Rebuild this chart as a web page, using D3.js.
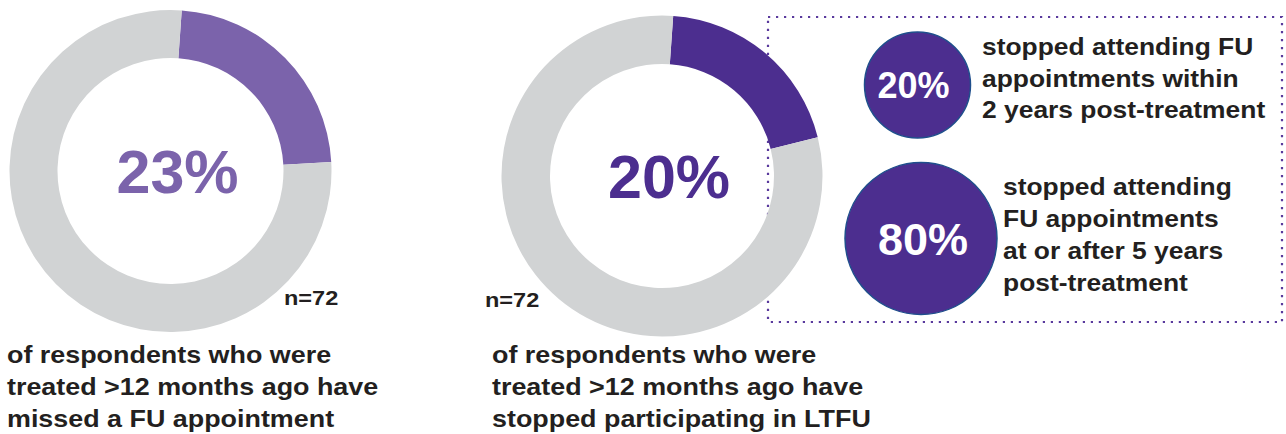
<!DOCTYPE html>
<html>
<head>
<meta charset="utf-8">
<script src="https://cdn.jsdelivr.net/npm/d3@7"></script>
<style>
  html, body { margin: 0; padding: 0; background: #ffffff; }
  svg { display: block; }
  text { font-family: "Liberation Sans", Arial, Helvetica, sans-serif; }
</style>
</head>
<body>
<svg id="chart" width="1286" height="434"></svg>
<script>
// ---- data ----
const donutValues = [23, 20];
const donutLabels = ["23%", "20%"];
const donutSampleSizes = ["n=72", "n=72"];
const donutCaptions = [
  ["of respondents who were", "treated >12 months ago have", "missed a FU appointment"],
  ["of respondents who were", "treated >12 months ago have", "stopped participating in LTFU"]
];
const bubbleValues = [20, 80];
const bubbleLabels = ["20%", "80%"];
const bubbleCaptions = [
  ["stopped attending FU", "appointments within", "2 years post-treatment"],
  ["stopped attending", "FU appointments", "at or after 5 years", "post-treatment"]
];

// ---- layout & style ----
const donutLayout = [
  { cx: 170.5, cy: 171, outer: 161, inner: 113, color: "#7b63ab",
    nx: 284, ny: 305, capX: 7 },
  { cx: 662, cy: 176, outer: 160.5, inner: 112, color: "#4c2e8f",
    nx: 485, ny: 307, capX: 492 }
];
const bubbleLayout = [
  { cx: 917.5, cy: 85, r: 53, font: 36, dx: -4, textX: 982, textY: 55, step: 31.5 },
  { cx: 921, cy: 238.5, r: 76, font: 45, dx: 2, textX: 1003, textY: 195, step: 32 }
];
const grey = "#d1d3d4";
const ink = "#231f20";
const dotColor = "#5a3a9d";
const rotation = 4 * Math.PI / 180;
const captionBaseline = 363, captionStep = 32;
const captionFont = 24, sideFont = 24, stretch = 1.12, sideStretch = 1.1;

const svg = d3.select("#chart");

// stretch text horizontally to a wider grotesque proportion
function widen(sel, k) {
  sel.each(function () {
    const w = this.getComputedTextLength();
    d3.select(this).attr("textLength", w * k).attr("lengthAdjust", "spacingAndGlyphs");
  });
}

// ---- dotted frame around the breakdown panel (drawn beneath the donut) ----
const frame = { x0: 768, y0: 17, x1: 1282, y1: 322 };
svg.append("path")
  .attr("d", `M${frame.x0},${frame.y0}H${frame.x1}V${frame.y1}H${frame.x0}Z`)
  .attr("fill", "none")
  .attr("stroke", dotColor)
  .attr("stroke-width", 2.2)
  .attr("stroke-dasharray", "2.2,5.8");

// ---- donuts ----
const pie = d3.pie().sort(null).value(d => d)
  .startAngle(rotation).endAngle(rotation + 2 * Math.PI);
const pctScale = d3.scaleLinear().domain([0, 100]).range([0, 100]);

donutValues.forEach((v, i) => {
  const L = donutLayout[i];
  const g = svg.append("g").attr("transform", `translate(${L.cx},${L.cy})`);
  const arc = d3.arc().innerRadius(L.inner).outerRadius(L.outer);
  const arcs = pie([pctScale(v), 100 - pctScale(v)]);
  g.selectAll("path").data(arcs).join("path")
    .attr("d", arc)
    .attr("fill", (d, j) => j === 0 ? L.color : grey);

  g.append("text")
    .attr("x", 7).attr("y", 22)
    .attr("text-anchor", "middle")
    .attr("fill", L.color)
    .attr("font-size", 61)
    .attr("font-weight", 700)
    .text(donutLabels[i]);

  svg.append("text")
    .attr("x", L.nx).attr("y", L.ny)
    .attr("fill", ink)
    .attr("font-size", 21)
    .attr("font-weight", 700)
    .text(donutSampleSizes[i])
    .call(widen, stretch);

  svg.append("g").selectAll("text").data(donutCaptions[i]).join("text")
    .attr("x", L.capX)
    .attr("y", (d, j) => captionBaseline + j * captionStep)
    .attr("fill", ink)
    .attr("font-size", captionFont)
    .attr("font-weight", 700)
    .text(d => d)
    .call(widen, stretch);
});

// ---- bubbles ----
bubbleValues.forEach((v, i) => {
  const B = bubbleLayout[i];
  svg.append("circle")
    .attr("cx", B.cx).attr("cy", B.cy).attr("r", B.r)
    .attr("fill", "#4c2e8f")
    .attr("stroke", "#1f4f8c")
    .attr("stroke-width", 1.5);
  svg.append("text")
    .attr("x", B.cx + B.dx).attr("y", B.cy + B.font * 0.36)
    .attr("text-anchor", "middle")
    .attr("fill", "#ffffff")
    .attr("font-size", B.font)
    .attr("font-weight", 700)
    .text(bubbleLabels[i]);
  svg.append("g").selectAll("text").data(bubbleCaptions[i]).join("text")
    .attr("x", B.textX)
    .attr("y", (d, j) => B.textY + j * B.step)
    .attr("fill", ink)
    .attr("font-size", sideFont)
    .attr("font-weight", 700)
    .text(d => d)
    .call(widen, sideStretch);
});
</script>
</body>
</html>
